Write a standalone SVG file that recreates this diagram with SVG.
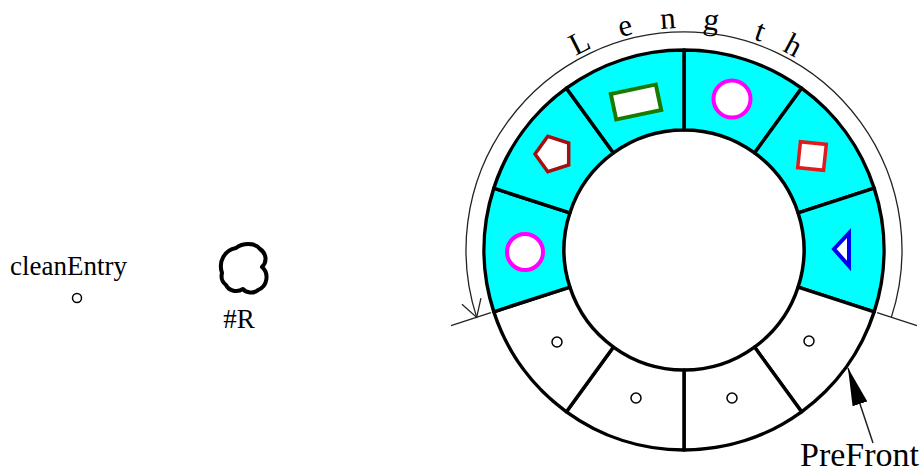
<svg xmlns="http://www.w3.org/2000/svg" width="922" height="474" viewBox="0 0 922 474">
<style>
  .lbl { font-family: "Liberation Serif", "Times New Roman", serif; fill: #000; }
  .seg { stroke: #000; stroke-width: 3.5; stroke-linejoin: round; }
  .cyan { fill: #00ffff; }
  .white { fill: #ffffff; }
  .dot { fill: #fff; stroke: #000; stroke-width: 1.5; }
  .thin { fill: none; stroke: #222; stroke-width: 1.3; }
</style>
<defs>
  <marker id="openArrow" markerUnits="userSpaceOnUse" markerWidth="30" markerHeight="30" viewBox="-20 -15 22 30" refX="0" refY="0" orient="auto">
    <path d="M-17,-10 L0,0 L-17,10" fill="none" stroke="#222" stroke-width="1.3"/>
  </marker>
  <marker id="solidArrow" markerUnits="userSpaceOnUse" markerWidth="40" markerHeight="20" viewBox="-34 -9 36 18" refX="0" refY="0" orient="auto">
    <path d="M0,0 L-34,-7 L-34,7 Z" fill="#000"/>
  </marker>
</defs>
<rect width="922" height="474" fill="#fff"/>

<g id="cleanEntry">
  <text class="lbl" x="10" y="275" font-size="27">cleanEntry</text>
  <circle class="dot" cx="77" cy="298" r="4.5"/>
</g>

<g id="R">
  <path d="M222,273 C218,261 225,250 236,248 C242,243 255,242 260,249 C267,254 267,262 262,267 C269,273 268,286 258,290 C254,294 246,293 243,289 C237,293 229,291 226,285 C222,282 221,277 222,273 Z" fill="none" stroke="#000" stroke-width="4" stroke-linejoin="round"/>
  <text class="lbl" x="239" y="328" font-size="27" text-anchor="middle">#R</text>
</g>

<g id="ring">
  <g id="seg1">
    <path class="seg cyan" d="M684,50 A200,200 0 0 1 801.56,88.2 L754.53,152.92 A120,120 0 0 0 684,130 Z"/>
    <circle cx="732" cy="99" r="18.5" fill="#fff" stroke="#ff00ff" stroke-width="4"/>
  </g>
  <g id="seg2">
    <path class="seg cyan" d="M801.56,88.2 A200,200 0 0 1 874.21,188.2 L798.13,212.92 A120,120 0 0 0 754.53,152.92 Z"/>
    <rect x="-13" y="-13" width="26" height="26" transform="translate(812,156) rotate(6)" fill="#fff" stroke="#e41a1a" stroke-width="3.5"/>
  </g>
  <g id="seg3">
    <path class="seg cyan" d="M874.21,188.2 A200,200 0 0 1 874.21,311.8 L798.13,287.08 A120,120 0 0 0 798.13,212.92 Z"/>
    <polygon points="834,249 849,233 849,266" fill="#fff" stroke="#0000ee" stroke-width="4" stroke-linejoin="miter"/>
  </g>
  <g id="seg4">
    <path class="seg white" d="M874.21,311.8 A200,200 0 0 1 801.56,411.8 L754.53,347.08 A120,120 0 0 0 798.13,287.08 Z"/>
    <circle class="dot" cx="809" cy="341" r="5"/>
  </g>
  <g id="seg5">
    <path class="seg white" d="M801.56,411.8 A200,200 0 0 1 684,450 L684,370 A120,120 0 0 0 754.53,347.08 Z"/>
    <circle class="dot" cx="732" cy="398" r="5"/>
  </g>
  <g id="seg6">
    <path class="seg white" d="M684,450 A200,200 0 0 1 566.44,411.8 L613.47,347.08 A120,120 0 0 0 684,370 Z"/>
    <circle class="dot" cx="636" cy="398" r="5"/>
  </g>
  <g id="seg7">
    <path class="seg white" d="M566.44,411.8 A200,200 0 0 1 493.79,311.8 L569.87,287.08 A120,120 0 0 0 613.47,347.08 Z"/>
    <circle class="dot" cx="557" cy="342" r="5"/>
  </g>
  <g id="seg8">
    <path class="seg cyan" d="M493.79,311.8 A200,200 0 0 1 493.79,188.2 L569.87,212.92 A120,120 0 0 0 569.87,287.08 Z"/>
    <circle cx="525" cy="252" r="18" fill="#fff" stroke="#ff00ff" stroke-width="4"/>
  </g>
  <g id="seg9">
    <path class="seg cyan" d="M493.79,188.2 A200,200 0 0 1 566.44,88.2 L613.47,152.92 A120,120 0 0 0 569.87,212.92 Z"/>
    <polygon points="535,154 547.8,136.3 568.7,143.1 568.7,164.9 547.8,171.7" fill="#fff" stroke="#a50f0f" stroke-width="3.5" stroke-linejoin="miter"/>
  </g>
  <g id="seg10">
    <path class="seg cyan" d="M566.44,88.2 A200,200 0 0 1 684,50 L684,130 A120,120 0 0 0 613.47,152.92 Z"/>
    <rect x="-23" y="-13" width="46" height="26" transform="translate(636,102) rotate(-12)" fill="#fff" stroke="#1a7a00" stroke-width="4"/>
  </g>
</g>

<g id="length-dimension">
  <line class="thin" x1="490.9" y1="312.7" x2="451" y2="325.7"/>
  <line class="thin" x1="877.1" y1="312.7" x2="917" y2="325.7"/>
  <path class="thin" d="M891.3,317.4 A218,218 0 1 0 476.7,317.4" marker-end="url(#openArrow)"/>
  <g class="lbl" font-size="31" text-anchor="middle">
    <text x="583.9" y="51.8" transform="rotate(-26.8 583.9 51.8)">L</text>
    <text x="627.3" y="35.4" transform="rotate(-14.8 627.3 35.4)">e</text>
    <text x="668.5" y="28.5" transform="rotate(-4 668.5 28.5)">n</text>
    <text x="710.3" y="29.6" transform="rotate(6.8 710.3 29.6)">g</text>
    <text x="757.0" y="40.3" transform="rotate(19.2 757.0 40.3)">t</text>
    <text x="788.6" y="54.2" transform="rotate(28.1 788.6 54.2)">h</text>
  </g>
</g>

<g id="connectors">
  <line x1="873" y1="443" x2="848" y2="368" stroke="#222" stroke-width="1.5" marker-end="url(#solidArrow)"/>
</g>

<g id="PreFront">
  <text class="lbl" x="800" y="466" font-size="34">PreFront</text>
</g>
</svg>
